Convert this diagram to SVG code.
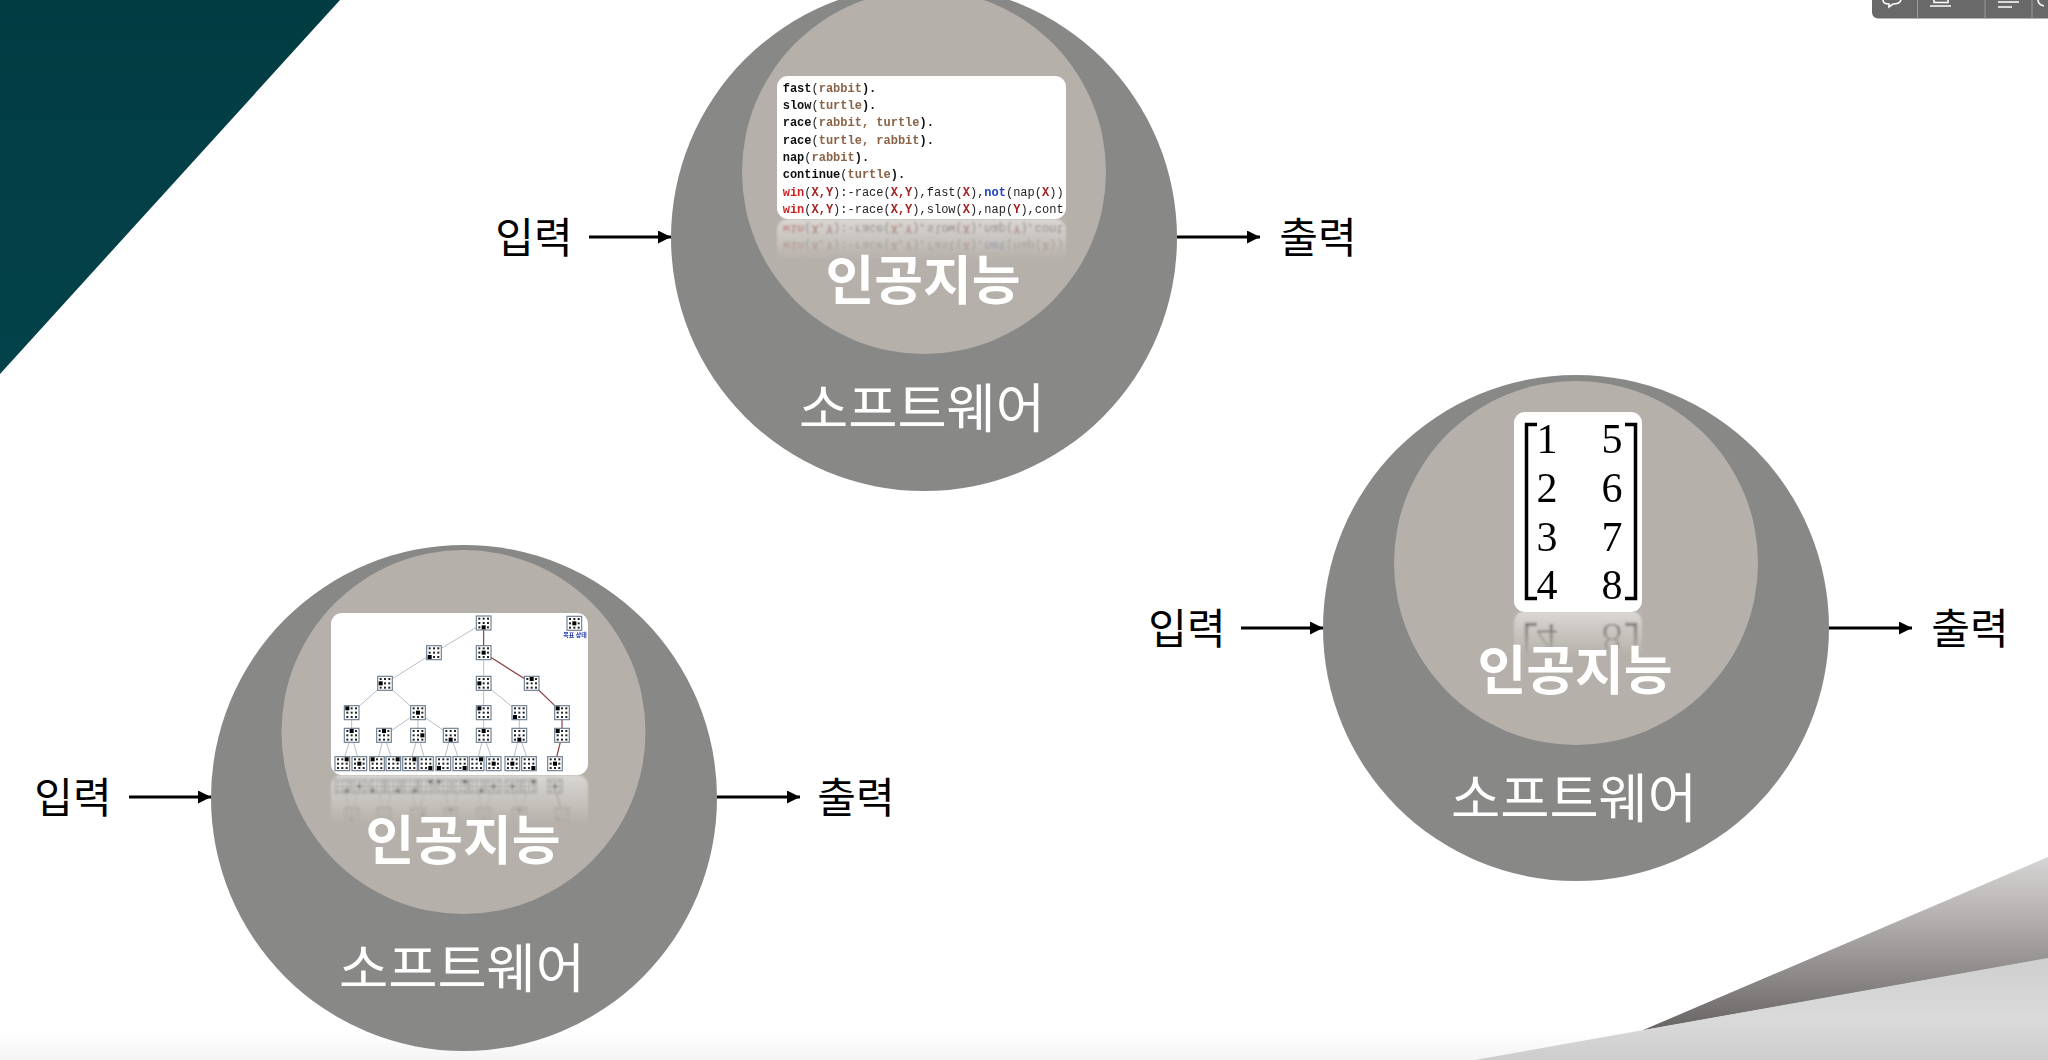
<svg xmlns="http://www.w3.org/2000/svg" xmlns:xlink="http://www.w3.org/1999/xlink" width="2048" height="1060" viewBox="0 0 2048 1060">
<style>
.outer{fill:#888886}.inner{fill:#b5b0a9}.panel{fill:#fff}
.ko{font-family:"Noto Sans CJK KR","Noto Sans",sans-serif;text-anchor:middle}
.ai{font-size:53px;font-weight:700;fill:#fff}
.sw{font-size:53.500px;font-weight:400;fill:#fff}
.io{font-size:42px;font-weight:400;fill:#000}
.conn{stroke:#000;stroke-width:3;fill:none;marker-end:url(#ah)}
.code{font-family:"Liberation Mono",monospace;font-size:12px;font-weight:700;fill:#111}
.a{fill:#8a6347}.v{fill:#a32020}.r{fill:#cc2222}.n{fill:#2040c8}.t{font-weight:400;fill:#222}
.num{font-family:"Liberation Serif",serif;font-size:42px;text-anchor:middle;fill:#000}
.br{fill:none;stroke:#000;stroke-width:3.500}
.bx{fill:#fff;stroke:#6f8093;stroke-width:3.500}.d{fill:#222}.k{fill:#000}
.eg{stroke:#a9b2bc;stroke-width:2.500;fill:none}.er{stroke:#8f3a42;stroke-width:3.500;fill:none}
.tb{fill:none;stroke:#fff;stroke-width:1.600}
</style>
<defs>
<marker id="ah" markerUnits="userSpaceOnUse" markerWidth="14" markerHeight="13" refX="13" refY="6.500" orient="auto"><path d="M0 0L13 6.500L0 13z" fill="#000"/></marker>
<linearGradient id="teal" x1="0" y1="0" x2="0" y2="1"><stop offset="0" stop-color="#023c43"/><stop offset="1" stop-color="#03424a"/></linearGradient>
<linearGradient id="wedge" gradientUnits="userSpaceOnUse" x1="0" y1="857" x2="0" y2="1030"><stop offset="0" stop-color="#d6d4d4"/><stop offset=".3" stop-color="#bab6b5"/><stop offset="1" stop-color="#686463"/></linearGradient>
<linearGradient id="floor" gradientUnits="userSpaceOnUse" x1="0" y1="958" x2="0" y2="1060"><stop offset="0" stop-color="#cfcfcf"/><stop offset=".6" stop-color="#dadada"/><stop offset="1" stop-color="#cdcdcd"/></linearGradient>
<linearGradient id="ground" x1="0" y1="0" x2="0" y2="1"><stop offset="0" stop-color="#fff"/><stop offset="1" stop-color="#f4f4f4"/></linearGradient>
<linearGradient id="fade" x1="0" y1="0" x2="0" y2="1"><stop offset="0" stop-color="#fff" stop-opacity=".5"/><stop offset="1" stop-color="#fff" stop-opacity="0"/></linearGradient>
<mask id="m1" maskUnits="userSpaceOnUse" x="770" y="219" width="300" height="42"><rect x="770" y="219" width="300" height="42" fill="url(#fade)"/></mask>
<mask id="m2" maskUnits="userSpaceOnUse" x="325" y="775" width="270" height="50"><rect x="325" y="775" width="270" height="50" fill="url(#fade)"/></mask>
<mask id="m3" maskUnits="userSpaceOnUse" x="1510" y="612" width="140" height="44"><rect x="1510" y="612" width="140" height="44" fill="url(#fade)"/></mask>
<clipPath id="cc"><rect x="777" y="76" width="289" height="143" rx="11"/></clipPath>
<filter id="soft" x="-5%" y="-5%" width="110%" height="110%"><feGaussianBlur stdDeviation=".5"/></filter>
<filter id="soft2" x="-5%" y="-5%" width="110%" height="110%"><feGaussianBlur stdDeviation="1"/></filter>
<g id="box"><rect x="-22" y="-21" width="44" height="42" class="bx"/>
<g class="d"><rect x="-16" y="-16" width="6" height="6"/><rect x="-3" y="-16" width="6" height="6"/><rect x="10" y="-16" width="6" height="6"/><rect x="-16" y="-3" width="6" height="6"/><rect x="-3" y="-3" width="6" height="6"/><rect x="10" y="-3" width="6" height="6"/><rect x="-16" y="10" width="6" height="6"/><rect x="-3" y="10" width="6" height="6"/><rect x="10" y="10" width="6" height="6"/></g></g>
<g id="b0"><use href="#box"/><rect x="-19" y="-19" width="12" height="12" class="k"/></g>
<g id="b1"><use href="#box"/><rect x="-6" y="-19" width="12" height="12" class="k"/></g>
<g id="b2"><use href="#box"/><rect x="7" y="-19" width="12" height="12" class="k"/></g>
<g id="b3"><use href="#box"/><rect x="-19" y="-6" width="12" height="12" class="k"/></g>
<g id="b4"><use href="#box"/><rect x="-6" y="-6" width="12" height="12" class="k"/></g>
<g id="b5"><use href="#box"/><rect x="7" y="-6" width="12" height="12" class="k"/></g>
<g id="b6"><use href="#box"/><rect x="-19" y="7" width="12" height="12" class="k"/></g>
<g id="b7"><use href="#box"/><rect x="-6" y="7" width="12" height="12" class="k"/></g>
<g id="b8"><use href="#box"/><rect x="7" y="7" width="12" height="12" class="k"/></g>
<g id="codePanel">
<rect class="panel" x="777" y="76" width="289" height="143" rx="11"/>
<g clip-path="url(#cc)" class="code">
<text x="782.7" y="91.7">fast<tspan class="t">(</tspan><tspan class="a">rabbit</tspan>).</text>
<text x="782.7" y="109">slow<tspan class="t">(</tspan><tspan class="a">turtle</tspan>).</text>
<text x="782.7" y="126.3">race<tspan class="t">(</tspan><tspan class="a">rabbit, turtle</tspan>).</text>
<text x="782.7" y="143.7">race<tspan class="t">(</tspan><tspan class="a">turtle, rabbit</tspan>).</text>
<text x="782.7" y="161">nap<tspan class="t">(</tspan><tspan class="a">rabbit</tspan>).</text>
<text x="782.7" y="178.3">continue<tspan class="t">(</tspan><tspan class="a">turtle</tspan>).</text>
<text x="782.7" y="195.7"><tspan class="r">win</tspan><tspan class="t">(</tspan><tspan class="v">X,Y</tspan><tspan class="t">):-race(</tspan><tspan class="v">X,Y</tspan><tspan class="t">),fast(</tspan><tspan class="v">X</tspan><tspan class="t">),</tspan><tspan class="n">not</tspan><tspan class="t">(nap(</tspan><tspan class="v">X</tspan><tspan class="t">))</tspan></text>
<text x="782.7" y="213"><tspan class="r">win</tspan><tspan class="t">(</tspan><tspan class="v">X,Y</tspan><tspan class="t">):-race(</tspan><tspan class="v">X,Y</tspan><tspan class="t">),slow(</tspan><tspan class="v">X</tspan><tspan class="t">),nap(</tspan><tspan class="v">Y</tspan><tspan class="t">),cont</tspan></text>
</g></g>
<g id="treePanel">
<rect class="panel" x="331" y="613" width="257" height="162" rx="11"/>
<g transform="translate(320 600) scale(.33333)">
<g class="eg"><path d="M491 69L342 158M342 158L195 250M491 158V338M491 250L598 338M195 250L95 338M195 250L294 338M95 338V406M294 338L192 406M294 338V406M294 338L392 406M491 338V406M598 338V406M95 406L67 491M95 406L118 491M192 406L171 491M192 406L220 491M294 406L270 491M294 406L318 491M392 406L370 491M392 406L421 491M491 406L470 491M491 406L521 491M598 406L577 491M598 406L627 491"/></g>
<g class="er"><path d="M491 69V158M491 158L635 250L726 338V406L705 491"/></g>
<use href="#b7" x="491" y="69"/><use href="#b4" x="763" y="70"/>
<text x="765" y="111" font-family="Noto Sans CJK KR,sans-serif" font-size="18" font-weight="700" fill="#2233aa" text-anchor="middle">목표 상태</text>
<use href="#b6" x="342" y="158"/><use href="#b4" x="491" y="158"/>
<use href="#b3" x="195" y="250"/><use href="#b3" x="491" y="250"/><use href="#b1" x="635" y="250"/>
<use href="#b0" x="95" y="338"/><use href="#b4" x="294" y="338"/><use href="#b0" x="491" y="338"/><use href="#b6" x="598" y="338"/><use href="#b0" x="726" y="338"/>
<use href="#b1" x="95" y="406"/><use href="#b1" x="192" y="406"/><use href="#b5" x="294" y="406"/><use href="#b7" x="392" y="406"/><use href="#b1" x="491" y="406"/><use href="#b7" x="598" y="406"/><use href="#b0" x="726" y="406"/>
<use href="#b2" x="67" y="491"/><use href="#b4" x="118" y="491"/><use href="#b0" x="171" y="491"/><use href="#b2" x="220" y="491"/><use href="#b2" x="270" y="491"/><use href="#b8" x="318" y="491"/><use href="#b6" x="370" y="491"/><use href="#b8" x="421" y="491"/><use href="#b2" x="470" y="491"/><use href="#b4" x="521" y="491"/><use href="#b4" x="577" y="491"/><use href="#b8" x="627" y="491"/><use href="#b4" x="705" y="491"/>
</g></g>
<g id="matPanel">
<rect class="panel" x="1514" y="412" width="128" height="200" rx="11"/>
<path class="br" d="M1537 424.500H1526.500V598.500H1537M1625 424.500H1635.500V598.500H1625"/>
<text class="num" x="1547" y="453">1</text><text class="num" x="1612" y="453">5</text>
<text class="num" x="1547" y="501.500">2</text><text class="num" x="1612" y="501.500">6</text>
<text class="num" x="1547" y="550.500">3</text><text class="num" x="1612" y="550.500">7</text>
<text class="num" x="1547" y="599">4</text><text class="num" x="1612" y="599">8</text>
</g>
</defs>
<rect width="2048" height="1060" fill="#fff"/>
<g id="background">
<rect y="1030" width="2048" height="30" fill="url(#ground)"/>
<path d="M0 0H340L0 374z" fill="url(#teal)"/>
<path d="M1642 1030.500L2048 857V958.500z" fill="url(#wedge)"/>
<path d="M1475 1060L2048 958V1060z" fill="url(#floor)"/>
</g>
<g id="toolbar">
<path d="M1872 0H2048V18.500H1878a6 6 0 0 1-6-6z" fill="#696969"/>
<path d="M1917.500 0V18.500M1985 0V18.500M2032 0V18.500" stroke="#9a9a9a" stroke-width="1" fill="none"/>
<path class="tb" d="M1883 0c0 3 3 4 6 4v3l4-3c4 0 7-1 8-4"/>
<path class="tb" d="M1930 6H1951M1934 0V2.500H1948V0"/>
<path class="tb" d="M1998 2H2019M1998 7H2012"/>
<path class="tb" d="M2038 0c0 3 2 5 6 6"/>
</g>
<g id="connectors">
<path class="conn" d="M589 237H671"/><path class="conn" d="M1177 237H1260"/>
<path class="conn" d="M129 797H211"/><path class="conn" d="M717 797H800"/>
<path class="conn" d="M1241 628H1323"/><path class="conn" d="M1829 628H1912"/>
</g>
<g id="node-logic">
<circle class="outer" cx="924" cy="238" r="253"/><circle class="inner" cx="924" cy="172" r="182"/>
<use href="#codePanel" filter="url(#soft)"/>
<g mask="url(#m1)"><use href="#codePanel" transform="translate(0 438) scale(1 -1)" filter="url(#soft2)"/></g>
<text class="ko ai" x="923" y="300">인공지능</text>
<text class="ko sw" x="922" y="428">소프트웨어</text>
<text class="ko io" x="534" y="253">입력</text>
<text class="ko io" x="1318" y="253">출력</text>
</g>
<g id="node-search">
<circle class="outer" cx="464" cy="798" r="253"/><circle class="inner" cx="463.500" cy="732" r="182"/>
<use href="#treePanel" filter="url(#soft)"/>
<g mask="url(#m2)"><use href="#treePanel" transform="translate(0 1550) scale(1 -1)" filter="url(#soft2)"/></g>
<text class="ko ai" x="463" y="860">인공지능</text>
<text class="ko sw" x="462" y="988">소프트웨어</text>
<text class="ko io" x="73" y="813">입력</text>
<text class="ko io" x="856" y="813">출력</text>
</g>
<g id="node-matrix">
<circle class="outer" cx="1576" cy="628" r="253"/><circle class="inner" cx="1576" cy="563" r="182"/>
<use href="#matPanel" filter="url(#soft)"/>
<g mask="url(#m3)"><use href="#matPanel" transform="translate(0 1223) scale(1 -1)" filter="url(#soft2)"/></g>
<text class="ko ai" x="1575" y="690">인공지능</text>
<text class="ko sw" x="1574" y="818">소프트웨어</text>
<text class="ko io" x="1187" y="644">입력</text>
<text class="ko io" x="1970" y="644">출력</text>
</g>
</svg>
